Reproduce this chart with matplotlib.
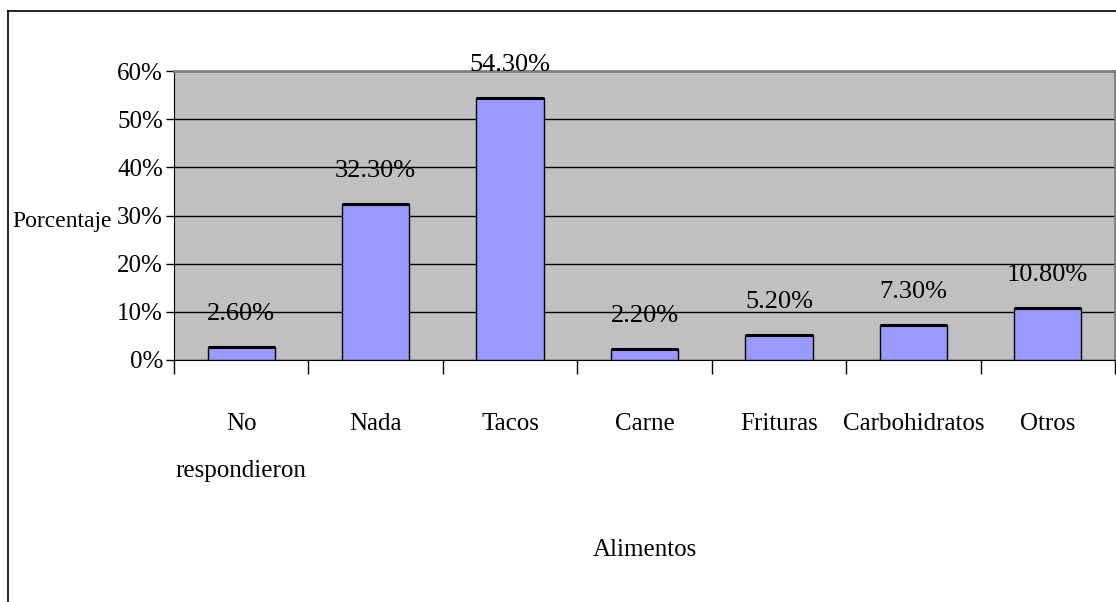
import matplotlib
matplotlib.use("Agg")
from matplotlib import pyplot as plt
from matplotlib.lines import Line2D
import numpy as np

categorias = ['No\n\nrespondieron', 'Nada', 'Tacos', 'Carne', 'Frituras', 'Carbohidratos', 'Otros']
porcentajes = [2.6, 32.3, 54.3, 2.2, 5.2, 7.3, 10.8]
yticks = [0, 10, 20, 30, 40, 50, 60]

plt.rcParams['font.family'] = ['Liberation Serif', 'DejaVu Serif']

fig = plt.figure(figsize=(11.16, 6.02), dpi=100)
ax = fig.add_axes([174/1116, 1 - 360/602, (1115 - 174)/1116, (360 - 71)/602])
ax.set_facecolor('#c0c0c0')

x = np.arange(len(categorias))
ax.bar(x, porcentajes, width=0.5, color='#9999ff', edgecolor='black', linewidth=1, zorder=3)
ax.hlines(porcentajes, x - 0.25, x + 0.25, colors='black', linewidth=2.2, zorder=4)

for xi, v in zip(x, porcentajes):
    ax.annotate('%.2f%%' % v, (xi, v), xytext=(0, 16), textcoords='offset points',
                ha='center', va='bottom', fontsize=19, zorder=5)

ax.set_xlim(-0.5, len(categorias) - 0.5)
ax.set_ylim(0, 60)
ax.set_yticks(yticks)
ax.set_yticklabels(['%d%%' % t for t in yticks], fontsize=18)
ax.yaxis.grid(True, color='black', linewidth=1)
ax.set_axisbelow(True)
ax.tick_params(axis='y', length=6, width=1, pad=2)

# categorias centradas, marcas entre ellas
ax.set_xticks(x)
ax.set_xticklabels(categorias, fontsize=18, linespacing=1.1)
ax.tick_params(axis='x', length=0, pad=38)
ax.set_xticks(np.arange(len(categorias) + 1) - 0.5, minor=True)
ax.tick_params(axis='x', which='minor', length=10, width=1)

ax.spines['top'].set_color('#808080')
ax.spines['right'].set_color('#808080')
ax.spines['top'].set_linewidth(2)
ax.spines['right'].set_linewidth(2)

fig.text(112/1116, 1 - 222/602, 'Porcentaje', ha='right', va='center', fontsize=17)
fig.text(645/1116, 1 - 550/602, 'Alimentos', ha='center', va='center', fontsize=18)

# marco del grafico
fig.add_artist(Line2D([8/1116, 8/1116], [0, 1 - 11/602], color='black', linewidth=1.2))
fig.add_artist(Line2D([8/1116, 1], [1 - 11/602, 1 - 11/602], color='black', linewidth=1.2))

fig.savefig('out.png', dpi=100)
